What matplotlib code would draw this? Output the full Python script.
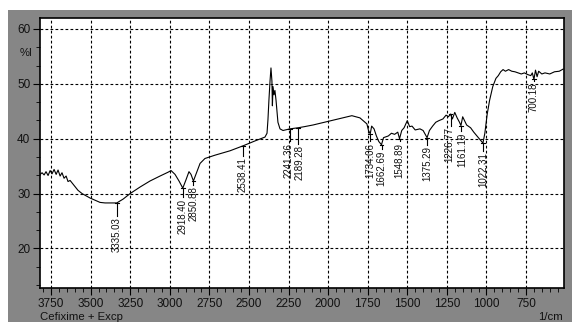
import numpy as np
import matplotlib.pyplot as plt
from matplotlib.patches import Rectangle
from matplotlib.ticker import MultipleLocator

# spectrum (wavenumber 1/cm, %T)
wavenumber = [3819, 3807, 3794, 3782, 3769, 3756, 3744, 3731, 3718, 3706,
              3693, 3681, 3668, 3655, 3643, 3630, 3605, 3580, 3554, 3529,
              3504, 3472, 3441, 3409, 3335, 3295, 3251, 3188, 3125, 3062,
              3011, 2992, 2967, 2942, 2918, 2898, 2879, 2866, 2851, 2835,
              2809, 2778, 2715, 2620, 2538, 2462, 2399, 2386, 2380, 2374,
              2367, 2361, 2355, 2352, 2348, 2342, 2336, 2329, 2323, 2317,
              2304, 2285, 2241, 2189, 2150, 2096, 1850, 1799, 1755, 1745,
              1734, 1725, 1710, 1695, 1680, 1663, 1650, 1620, 1600, 1580,
              1560, 1549, 1535, 1520, 1500, 1485, 1470, 1450, 1420, 1400,
              1375, 1360, 1340, 1320, 1300, 1275, 1255, 1240, 1227, 1215,
              1200, 1185, 1170, 1161, 1150, 1140, 1125, 1100, 1080, 1060,
              1040, 1022, 1010, 995, 980, 960, 940, 925, 910, 895,
              880, 860, 840, 820, 800, 780, 760, 740, 720, 710,
              700, 690, 680, 670, 650, 630, 600, 570, 540, 515]
transmittance = [33.5, 33.8, 33.4, 34.0, 33.3, 34.2, 33.6, 34.4, 33.5, 34.3,
                 33.2, 33.8, 32.8, 33.2, 32.2, 32.4, 31.5, 30.6, 30.0, 29.6,
                 29.2, 28.8, 28.4, 28.3, 28.3, 29.0, 30.0, 31.2, 32.3, 33.2,
                 33.9, 34.2, 33.5, 32.3, 31.0, 32.5, 34.0, 33.5, 32.3, 33.5,
                 35.5, 36.4, 37.0, 37.8, 38.7, 39.6, 40.3, 41.0, 43.5, 47.0,
                 50.5, 52.9, 50.5, 46.0, 49.5, 48.0, 48.8, 47.0, 45.0, 43.0,
                 41.8, 41.5, 41.8, 42.0, 42.2, 42.5, 44.2, 43.8, 42.7, 41.5,
                 40.9, 42.3, 41.8, 40.5, 39.5, 38.9, 40.2, 40.5, 41.0, 40.8,
                 41.2, 40.0, 41.5, 42.0, 43.3, 42.2, 42.3, 41.6, 41.8, 41.5,
                 40.2, 41.5, 42.3, 43.0, 43.3, 43.6, 44.3, 44.0, 44.5, 43.6,
                 44.8, 43.8, 43.0, 42.4, 44.0, 43.4, 42.5, 42.0, 41.2, 40.5,
                 39.8, 39.2, 41.0, 44.5, 47.0, 49.5, 51.0, 51.5, 52.2, 52.6,
                 52.3, 52.6, 52.3, 52.2, 52.0, 51.8, 52.0, 51.7, 51.5, 52.0,
                 50.8, 52.5, 51.3, 52.3, 51.8, 52.0, 51.8, 52.2, 52.3, 52.7]

# labelled peaks: position, curve value, top of the label
peak_labels = ['3335.03', '2918.40', '2850.88', '2538.41', '2241.36', '2189.28',
               '1734.06', '1662.69', '1548.89', '1375.29', '1226.77', '1161.19',
               '1022.31', '700.18']
peak_x = [3335.03, 2918.40, 2850.88, 2538.41, 2241.36, 2189.28, 1734.06,
          1662.69, 1548.89, 1375.29, 1226.77, 1161.19, 1022.31, 700.18]
peak_y = [28.3, 31.0, 32.3, 38.7, 41.8, 42.0, 40.9, 38.9, 40.0, 40.2,
          44.5, 42.4, 39.2, 50.8]
label_top = [26.0, 29.3, 31.6, 36.9, 39.6, 39.1, 39.6, 38.2, 39.6, 38.9,
             42.4, 41.5, 37.8, 50.5]
# small sideways nudge (in 1/cm) where two labels touch
label_shift = [0, 0, 0, 0, 10, -10, 0, 0, 0, 0, 6, -6, 0, 0]

x_ticks = [3750, 3500, 3250, 3000, 2750, 2500, 2250, 2000, 1750, 1500, 1250, 1000, 750]
y_ticks = [20, 30, 40, 50, 60]

plt.rcParams['font.family'] = ['Liberation Sans', 'DejaVu Sans']

fig = plt.figure(figsize=(5.76, 3.22), dpi=100)
fig.patch.set_facecolor('white')
fig.patches.append(Rectangle((8 / 576, 0), 564 / 576, 312 / 322,
                             transform=fig.transFigure, facecolor='#868686',
                             edgecolor='none', zorder=-10))

ax = fig.add_axes([40 / 576, 34 / 322, 524 / 576, 270 / 322])
ax.set_facecolor('white')
ax.plot(wavenumber, transmittance, color='black', lw=0.8)

for lab, px, py, ty, dx in zip(peak_labels, peak_x, peak_y, label_top, label_shift):
    ax.plot([px, px], [py, ty], color='black', lw=0.8)
    ax.plot([px - 12, px + 12], [py, py], color='black', lw=0.8)
    ax.text(px + dx, ty - 0.3, lab, rotation=90, ha='center', va='top',
            fontsize=7.0, color='#111111')

ax.set_xlim(3820, 510)
ax.set_ylim(12.8, 62)
ax.set_xticks(x_ticks)
ax.set_yticks(y_ticks)
ax.xaxis.set_minor_locator(MultipleLocator(50))
ax.yaxis.set_minor_locator(MultipleLocator(10 / 3))
ax.grid(True, which='major', color='black', linestyle=(0, (2.5, 2)), lw=0.8)
ax.tick_params(which='both', direction='out', colors='black', labelcolor='#111111',
               labelsize=8.5, pad=2)
ax.tick_params(which='major', length=5)
ax.tick_params(which='minor', length=3)
for s in ax.spines.values():
    s.set_color('black')
    s.set_linewidth(1.2)

fig.text(20 / 576, 1 - 53 / 322, '%I', fontsize=8, color='#111111', va='center')
fig.text(40 / 576, 1 - 317 / 322, 'Cefixime + Excp', fontsize=8.2,
         color='#111111', va='center')
fig.text(563 / 576, 1 - 317 / 322, '1/cm', fontsize=8.2, color='#111111',
         va='center', ha='right')

fig.savefig('out.png', dpi=100, facecolor=fig.get_facecolor())
